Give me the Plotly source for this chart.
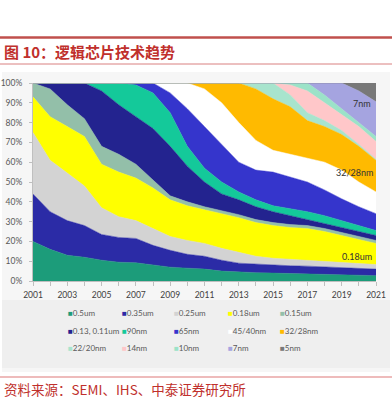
import plotly.graph_objects as go

years = list(range(2001, 2022))
tick_years = [2001, 2003, 2005, 2007, 2009, 2011, 2013, 2015, 2017, 2019, 2021]
tick_labels = [str(y) for y in tick_years]

nodes = ["0.5um", "0.35um", "0.25um", "0.18um", "0.15um", "0.13, 0.11um", "90nm",
         "65nm", "45/40nm", "32/28nm", "22/20nm", "14nm", "10nm", "7nm", "5nm"]
colors = ["#1c9c7a", "#2b2ba6", "#d3d3d3", "#ffff00", "#93bfa9", "#23238f", "#14c99a",
          "#3535cc", "#ffffff", "#ffba00", "#a8e4cd", "#ffc7c9", "#9be3c8", "#a5a4e0", "#787878"]

# share of wafer capacity (%) per node, 2001..2021
s_05um   = [20, 16, 13, 12, 10.5, 9.5, 9.2, 8, 7, 6.5, 6, 5, 4.5, 4.2, 4, 3.8, 3.5, 3.2, 3, 2.8, 2.7]
s_035um  = [24, 19, 17.5, 16, 13, 12.5, 12.3, 10, 8.5, 7, 6.5, 5.5, 4.5, 4.3, 4, 3.9, 4, 4, 3.8, 3.6, 3.3]
s_025um  = [31, 26, 24, 20, 13.5, 10.5, 9, 8.5, 7, 7, 6.5, 6, 5.5, 4, 3.5, 3.3, 3, 2.8, 2.7, 2.4, 2.3]
s_018um  = [18, 22, 23.5, 25, 22, 22.5, 21.5, 20.5, 18.5, 17.5, 17, 17.5, 17.5, 17, 16.5, 16, 16, 15, 13.5, 12.2, 10.7]
s_015um  = [7, 14, 11, 9, 9, 9, 7, 4, 2, 2, 1.5, 1.5, 1.5, 1.5, 1.5, 1.5, 1.5, 1.5, 1.5, 1.5, 1.5]
s_013um  = [0, 3, 11, 18, 28, 25, 24, 26, 25, 18, 12.5, 8.5, 7.5, 6.5, 5.5, 4.5, 3, 2.5, 2.5, 2.5, 2.5]
s_90nm   = [0, 0, 0, 0, 4, 11, 16, 18, 17, 10, 7, 6, 4, 3.5, 3, 3.5, 4, 4, 3.5, 3, 2.5]
s_65nm   = [0, 0, 0, 0, 0, 0, 1, 5, 10, 19, 21, 19, 15, 15, 17, 16, 15, 13, 11, 9.5, 8.5]
s_45nm   = [0, 0, 0, 0, 0, 0, 0, 0, 5, 13, 19, 21, 20, 15, 11, 11.5, 12, 14, 14.5, 12.5, 11]
s_32nm   = [0, 0, 0, 0, 0, 0, 0, 0, 0, 0, 3, 10, 20, 26, 26, 24, 19, 18, 18, 18, 16]
s_22nm   = [0, 0, 0, 0, 0, 0, 0, 0, 0, 0, 0, 0, 0, 3, 8, 6, 4, 3, 2, 1, 0.5]
s_14nm   = [0, 0, 0, 0, 0, 0, 0, 0, 0, 0, 0, 0, 0, 0, 0, 5, 11, 9, 8, 9, 9]
s_10nm   = [0, 0, 0, 0, 0, 0, 0, 0, 0, 0, 0, 0, 0, 0, 0, 1, 4, 4, 3, 2, 2.5]
s_7nm    = [0, 0, 0, 0, 0, 0, 0, 0, 0, 0, 0, 0, 0, 0, 0, 0, 0, 6, 13, 16, 17.5]
s_5nm    = [0, 0, 0, 0, 0, 0, 0, 0, 0, 0, 0, 0, 0, 0, 0, 0, 0, 0, 0, 4, 9.5]

series = [s_05um, s_035um, s_025um, s_018um, s_015um, s_013um, s_90nm, s_65nm,
          s_45nm, s_32nm, s_22nm, s_14nm, s_10nm, s_7nm, s_5nm]

W, H = 392, 399
L, R, T, B = 33, 16, 83, 118
PW, PH = W - L - R, H - T - B

def px(x):
    return (x - L) / PW

def py(y):
    return (H - B - y) / PH

fig = go.Figure()
for name, col, vals in zip(nodes, colors, series):
    fig.add_trace(go.Scatter(
        x=years, y=vals, name=name, mode="lines", stackgroup="one",
        line=dict(width=0.5, color=col), fillcolor=col, showlegend=False,
        hoverinfo="skip"))

shapes = []
# panel background
shapes.append(dict(type="rect", xref="paper", yref="paper", x0=px(2), x1=px(390),
                   y0=py(372), y1=py(72), fillcolor="#f6f6f6", line=dict(width=0), layer="below"))
shapes.append(dict(type="rect", xref="paper", yref="paper", x0=px(2), x1=px(390),
                   y0=py(368), y1=py(300), fillcolor="#efefef", line=dict(width=0), layer="below"))
# header / footer lines
shapes.append(dict(type="line", xref="paper", yref="paper", x0=px(0), x1=px(392),
                   y0=py(37.5), y1=py(37.5), line=dict(color="#c0504d", width=2.5)))
shapes.append(dict(type="line", xref="paper", yref="paper", x0=px(0), x1=px(392),
                   y0=py(64), y1=py(64), line=dict(color="#d98080", width=1)))
shapes.append(dict(type="line", xref="paper", yref="paper", x0=px(0), x1=px(392),
                   y0=py(377), y1=py(377), line=dict(color="#e8a5a5", width=1.5)))

annotations = []
annotations.append(dict(text="<b>图 10：逻辑芯片技术趋势</b>", xref="paper", yref="paper",
                        x=px(2), y=py(51), xanchor="left", yanchor="middle", showarrow=False,
                        font=dict(family="Noto Sans CJK SC", size=15, color="#c0302c")))
annotations.append(dict(text="资料来源：SEMI、IHS、中泰证券研究所", xref="paper", yref="paper",
                        x=px(2), y=py(389), xanchor="left", yanchor="middle", showarrow=False,
                        font=dict(family="Noto Sans CJK SC", size=13.5, color="#c0302c")))

# in-chart labels
for txt, xx, yy in [("7nm", 373, 103), ("32/28nm", 375, 172), ("0.18um", 374, 256)]:
    annotations.append(dict(text=txt, xref="paper", yref="paper", x=px(xx), y=py(yy),
                            xanchor="right", yanchor="middle", showarrow=False,
                            font=dict(family="Lato", size=9, color="#333333")))

# legend (3 rows x 5 columns)
col_x = [66, 120, 172, 226, 278]
row_y = [313, 330.5, 348]
for i, (name, col) in enumerate(zip(nodes, colors)):
    r, c = divmod(i, 5)
    annotations.append(dict(
        text=f'<span style="color:{col}">■</span>{name}', xref="paper", yref="paper",
        x=px(col_x[c]), y=py(row_y[r]), xanchor="left", yanchor="middle", showarrow=False,
        font=dict(family="Lato", size=8, color="#595959")))

fig.update_layout(
    width=W, height=H, margin=dict(l=L, r=R, t=T, b=B, autoexpand=False),
    paper_bgcolor="#ffffff", plot_bgcolor="#ffffff",
    shapes=shapes, annotations=annotations, showlegend=False,
    xaxis=dict(range=[2001, 2021], tickvals=tick_years, ticktext=tick_labels,
               showgrid=False, zeroline=False, showline=True, linecolor="#bfbfbf",
               ticks="outside", ticklen=4, tickcolor="#bfbfbf", ticklabelstandoff=2,
               automargin=False,
               minor=dict(dtick=1, ticks="outside", ticklen=4, tickcolor="#bfbfbf"),
               tickfont=dict(family="Lato", size=8.5, color="#404040")),
    yaxis=dict(range=[0, 100], dtick=10, ticksuffix="%", showgrid=False, zeroline=False,
               showline=True, linecolor="#bfbfbf", ticks="outside", ticklen=3,
               tickcolor="#bfbfbf", ticklabelstandoff=5, automargin=False,
               tickfont=dict(family="Lato", size=8.5, color="#595959")),
)

fig.write_html("out.html", config={"displayModeBar": False},
               post_script="document.body.style.margin='0';document.body.style.overflow='hidden';")
